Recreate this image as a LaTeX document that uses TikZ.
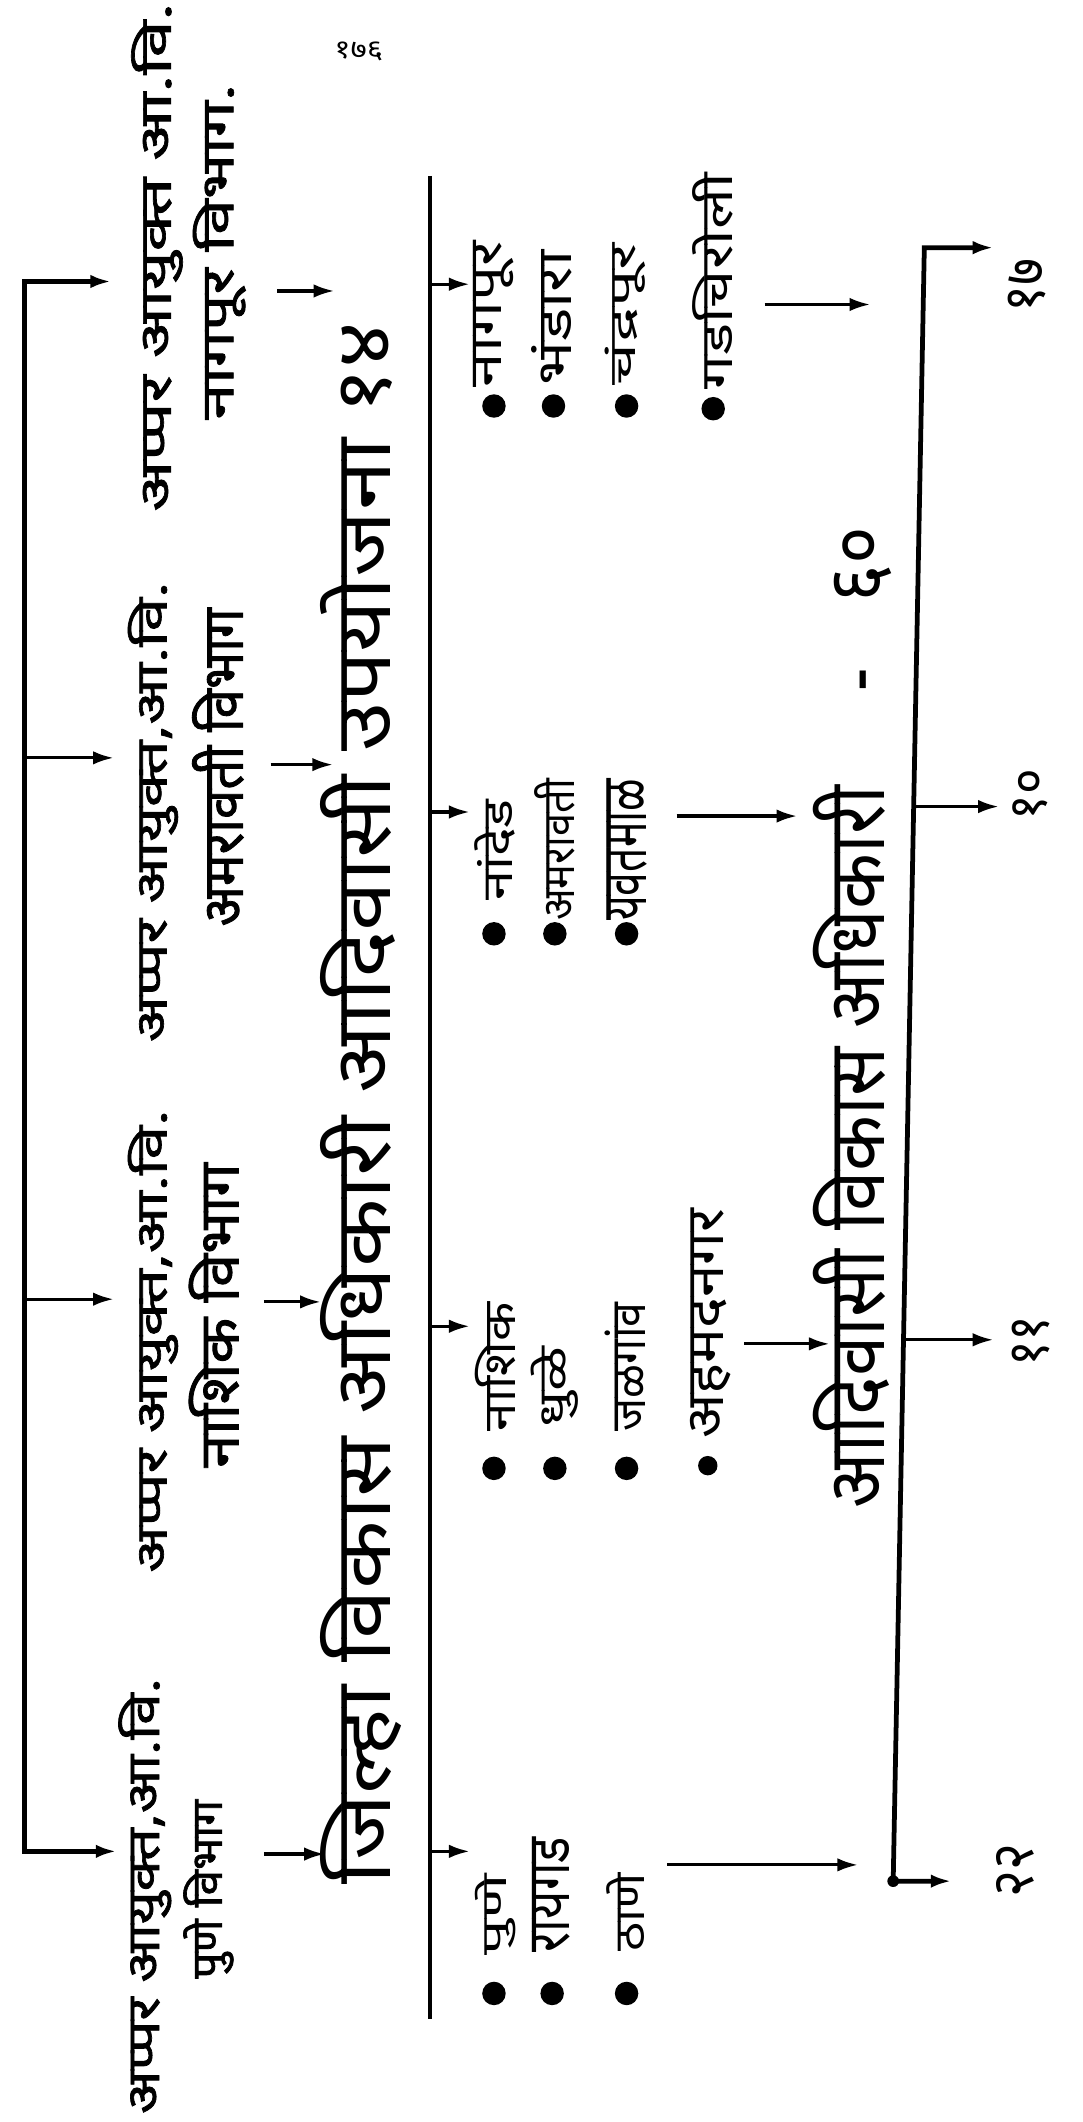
\documentclass[tikz,border=0pt]{standalone}
\usepackage{fontspec}
\usepackage{graphicx}
\usetikzlibrary{arrows.meta}
\newfontfamily\dev[Script=Devanagari]{Noto Sans}
\newfontfamily\devb[Script=Devanagari,FakeBold=1.5]{Noto Sans}
\newlength\un
\setlength\un{0.3mm}
% name, x, y, length (along text), height (across text), font, text
\newcommand\RT[7]{\node[rtext] (#1) at (#2,#3) {\resizebox*{#4\un}{#5\un}{#6#7}};}
\tikzset{
  rtext/.style={rotate=90,inner sep=0pt,outer sep=0pt},
  arr/.style={-{Latex[length=13pt,width=8.5pt]},line width=2pt},
  darr/.style={{Latex[length=13pt,width=8.5pt]}-{Latex[length=13pt,width=8.5pt]},line width=3pt},
  heavy/.style={line width=2.4pt},
  dotnode/.style={circle,fill=black,inner sep=0pt,minimum size=5.2mm},
  smalldot/.style={circle,fill=black,inner sep=0pt,minimum size=2.6mm}
}
\begin{document}
\begin{tikzpicture}[x=0.3mm,y=-0.3mm]
\useasboundingbox[fill=white] (0,0) rectangle (800,1568);

% page number
\node[inner sep=0pt] (pg) at (265,38) {\resizebox*{36\un}{14\un}{\dev १७६}};

% ---------- additional commissioner labels ----------
\RT{puA}{107}{1401}{322}{39}{\devb}{अप्पर आयुक्त,आ.वि.}
\RT{puB}{154}{1396}{132}{37}{\devb}{पुणे विभाग}
\RT{naA}{113}{991}{342}{37}{\devb}{अप्पर आयुक्त,आ.वि.}
\RT{naB}{158}{972}{225}{37}{\devb}{नाशिक विभाग}
\RT{amA}{113}{600}{340}{37}{\devb}{अप्पर आयुक्त,आ.वि.}
\RT{amB}{161}{567}{235}{38}{\devb}{अमरावती विभाग}
\RT{ngA}{116}{190}{376}{38}{\devb}{अप्पर आयुक्त आ.वि.}
\RT{ngB}{162}{186}{248}{39}{\devb}{नागपूर विभाग.}

% left bracket line with arrows
\coordinate (Ltop) at (18,208);
\coordinate (Lam) at (18,560);
\coordinate (Lna) at (18,960);
\coordinate (Lbot) at (18,1368);
\coordinate (tNg) at (82,208);
\coordinate (tAm) at (84,560);
\coordinate (tNa) at (84,960);
\coordinate (tPu) at (86,1368);
\draw[darr] (tNg) -- (Ltop) -- (Lbot) -- (tPu);
\draw[arr] (Lam) -- (tAm);
\draw[arr] (Lna) -- (tNa);

% arrows from labels to heading
\coordinate (s2Pu) at (195,1370); \coordinate (e2Pu) at (240,1370);
\coordinate (s2Na) at (195,962);  \coordinate (e2Na) at (237,962);
\coordinate (s2Am) at (200,565);  \coordinate (e2Am) at (246,565);
\coordinate (s2Ng) at (205,215);  \coordinate (e2Ng) at (247,215);
\draw[arr] (s2Pu) -- (e2Pu);
\draw[arr] (s2Na) -- (e2Na);
\draw[arr] (s2Am) -- (e2Am);
\draw[arr] (s2Ng) -- (e2Ng);

% main heading
\RT{head}{267}{815}{1154}{60}{\dev}{जिल्हा विकास अधिकारी आदिवासी उपयोजना १४}

% separator line
\coordinate (Mtop) at (318,130);
\coordinate (Mbot) at (318,1492);
\draw[heavy] (Mtop) -- (Mbot);
\coordinate (mNg) at (318,210); \coordinate (mNgT) at (347,210);
\coordinate (mAm) at (318,600); \coordinate (mAmT) at (347,600);
\coordinate (mNa) at (318,980); \coordinate (mNaT) at (347,980);
\coordinate (mPu) at (318,1368); \coordinate (mPuT) at (347,1368);
\draw[arr] (mNg) -- (mNgT);
\draw[arr] (mAm) -- (mAmT);
\draw[arr] (mNa) -- (mNaT);
\draw[arr] (mPu) -- (mPuT);

% ---------- districts ----------
% Pune division
\node[dotnode] (dPu1) at (365,1473) {};
\node[dotnode] (dPu2) at (408,1473) {};
\node[dotnode] (dPu3) at (463,1473) {};
\RT{pu1}{366}{1415}{60}{30}{\dev}{पुणे}
\RT{pu2}{407}{1400}{85}{28}{\dev}{रायगड}
\RT{pu3}{462}{1413}{58}{28}{\dev}{ठाणे}
\coordinate (gPuS) at (493,1378); \coordinate (gPuE) at (634,1378);
\draw[arr] (gPuS) -- (gPuE);

% Nashik division
\node[dotnode] (dNa1) at (365,1085) {};
\node[dotnode] (dNa2) at (410,1085) {};
\node[dotnode] (dNa3) at (463,1085) {};
\node[dotnode,minimum size=4.3mm] (dNa4) at (523,1083) {};
\RT{na1}{366}{1010}{95}{30}{\dev}{नाशिक}
\RT{na2}{410}{1025}{60}{35}{\dev}{धुळे}
\RT{na3}{462}{1010}{95}{30}{\dev}{जळगांव}
\RT{na4}{525}{978}{170}{30}{\dev}{अहमदनगर}
\coordinate (gNaS) at (550,993); \coordinate (gNaE) at (613,993);
\draw[arr] (gNaS) -- (gNaE);

% Amravati division
\node[dotnode] (dAm1) at (365,690) {};
\node[dotnode] (dAm2) at (410,690) {};
\node[dotnode] (dAm3) at (463,690) {};
\RT{am1}{366}{628}{75}{30}{\dev}{नांदेड}
\RT{am2}{410}{628}{105}{30}{\dev}{अमरावती}
\RT{am3}{463}{628}{105}{30}{\dev}{यवतमाळ}
\coordinate (gAmS) at (500,603); \coordinate (gAmE) at (589,603);
\draw[arr] (gAmS) -- (gAmE);

% Nagpur division
\node[dotnode] (dNg1) at (365,300) {};
\node[dotnode] (dNg2) at (409,300) {};
\node[dotnode] (dNg3) at (463,300) {};
\node[dotnode] (dNg4) at (527,302) {};
\RT{ng1}{365}{232}{108}{30}{\dev}{नागपूर}
\RT{ng2}{408}{235}{100}{30}{\dev}{भंडारा}
\RT{ng3}{462}{232}{105}{30}{\dev}{चंद्रपूर}
\RT{ng4}{527}{208}{160}{30}{\dev}{गडचिरोली}
\coordinate (gNgS) at (565,225); \coordinate (gNgE) at (643,225);
\draw[arr] (gNgS) -- (gNgE);

% bottom title
\RT{sub}{630}{752}{725}{58}{\dev}{आदिवासी विकास अधिकारी\hspace{1.3em}-\hspace{0.9em}६०}

% bottom bracket line
\coordinate (Btop) at (683,183);
\coordinate (Bam) at (675,596);
\coordinate (Bna) at (668,990);
\coordinate (Bbot) at (660,1390);
\coordinate (bNgT) at (734,183);
\coordinate (bAmT) at (738,596);
\coordinate (bNaT) at (734,990);
\coordinate (bPuT) at (703,1390);
\draw[darr] (bNgT) -- (Btop) -- (Bbot) -- (bPuT);
\draw[arr] (Bam) -- (bAmT);
\draw[arr] (Bna) -- (bNaT);
\node[smalldot] (cornerdot) at (Bbot) {};

% numbers
\RT{nNg}{759}{211}{40}{28}{\dev}{१७}
\RT{nAm}{761}{587}{38}{26}{\dev}{१०}
\RT{nNa}{762}{991}{38}{28}{\dev}{११}
\RT{nPu}{750}{1382}{40}{28}{\dev}{२२}
\end{tikzpicture}
\end{document}
